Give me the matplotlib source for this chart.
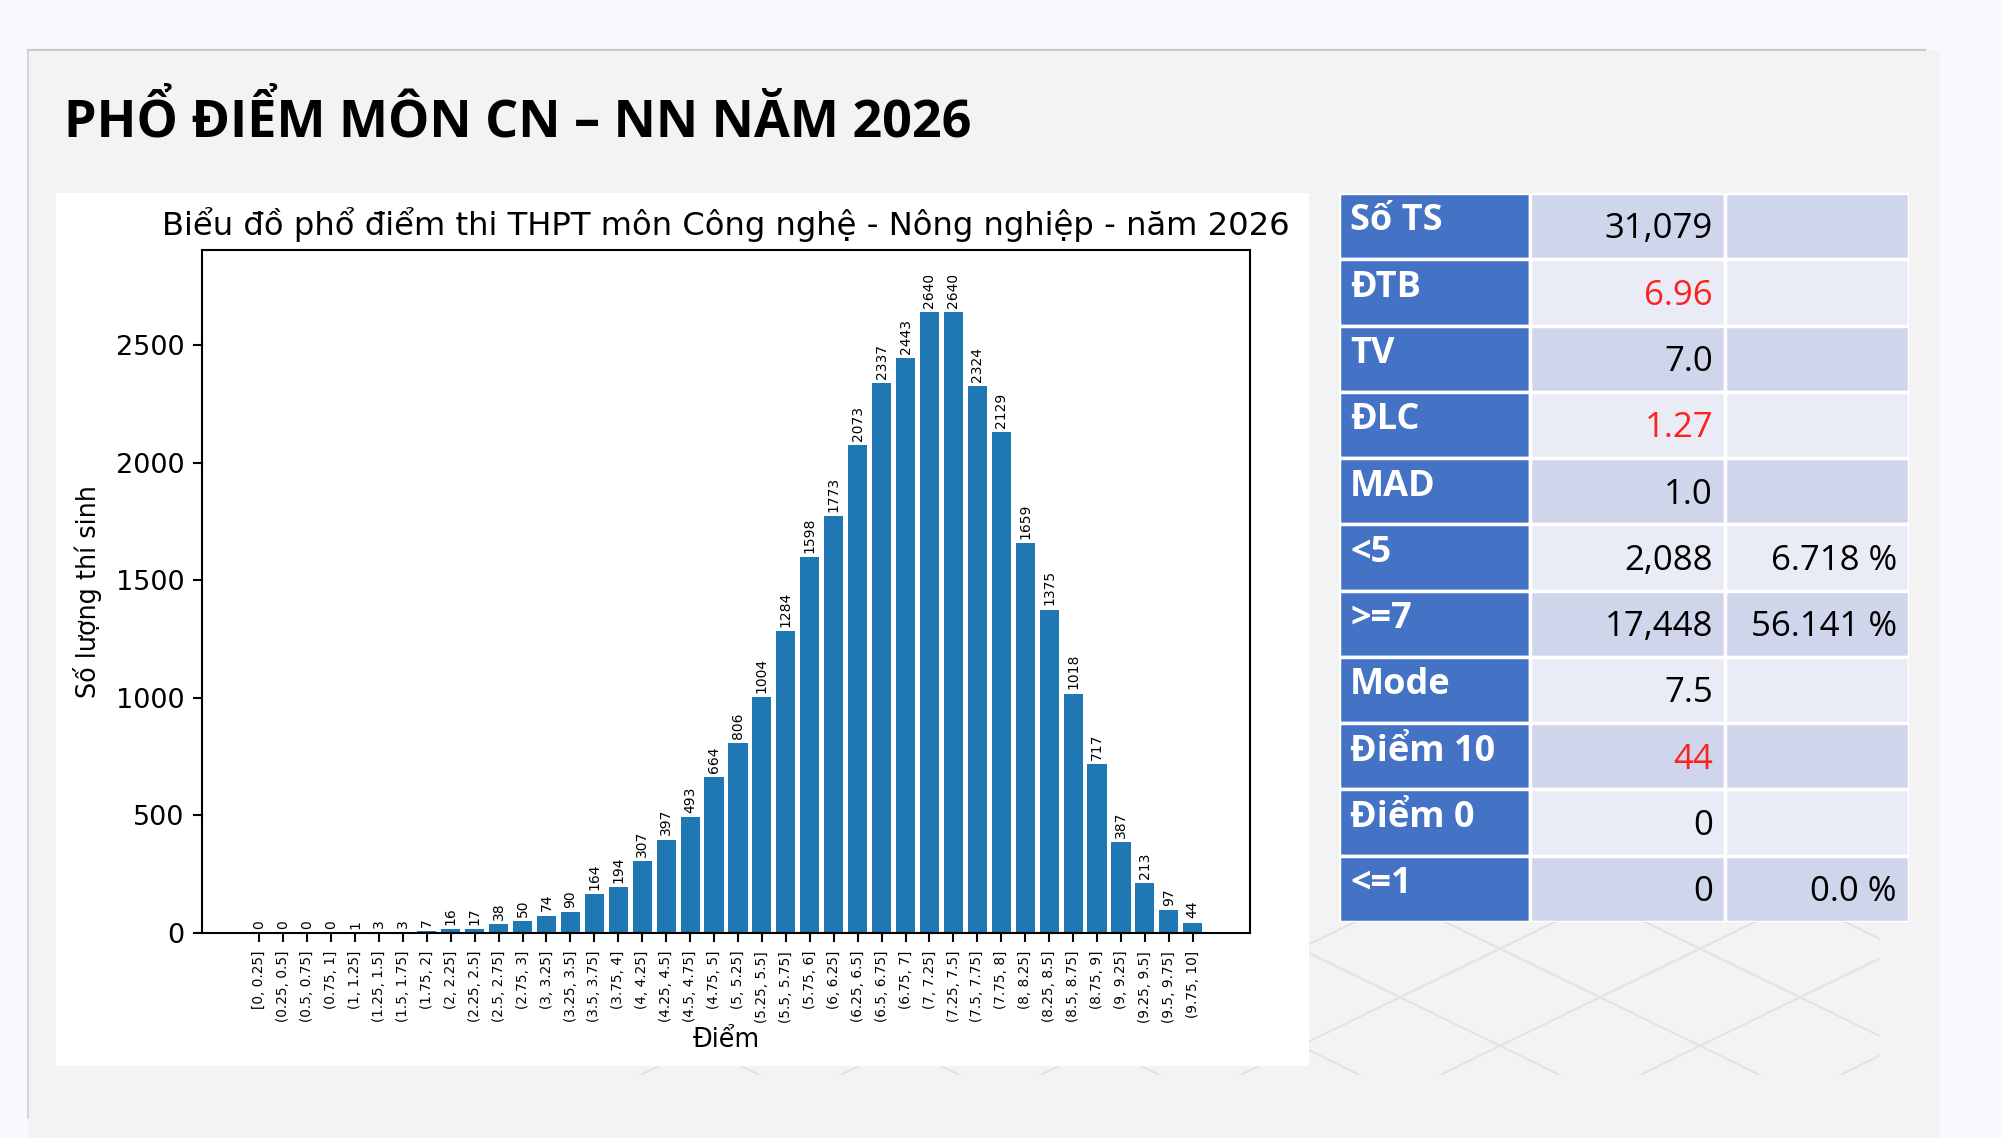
import numpy as np
import matplotlib
matplotlib.use("Agg")
import matplotlib.pyplot as plt
from matplotlib.patches import Rectangle

W, H = 2002, 1138

# score bins and counts
bins = ["[0, 0.25]", "(0.25, 0.5]", "(0.5, 0.75]", "(0.75, 1]", "(1, 1.25]", "(1.25, 1.5]",
        "(1.5, 1.75]", "(1.75, 2]", "(2, 2.25]", "(2.25, 2.5]", "(2.5, 2.75]", "(2.75, 3]",
        "(3, 3.25]", "(3.25, 3.5]", "(3.5, 3.75]", "(3.75, 4]", "(4, 4.25]", "(4.25, 4.5]",
        "(4.5, 4.75]", "(4.75, 5]", "(5, 5.25]", "(5.25, 5.5]", "(5.5, 5.75]", "(5.75, 6]",
        "(6, 6.25]", "(6.25, 6.5]", "(6.5, 6.75]", "(6.75, 7]", "(7, 7.25]", "(7.25, 7.5]",
        "(7.5, 7.75]", "(7.75, 8]", "(8, 8.25]", "(8.25, 8.5]", "(8.5, 8.75]", "(8.75, 9]",
        "(9, 9.25]", "(9.25, 9.5]", "(9.5, 9.75]", "(9.75, 10]"]
counts = [0, 0, 0, 0, 1, 3, 3, 7, 16, 17, 38, 50, 74, 90, 164, 194, 307, 397, 493, 664,
          806, 1004, 1284, 1598, 1773, 2073, 2337, 2443, 2640, 2640, 2324, 2129, 1659, 1375,
          1018, 717, 387, 213, 97, 44]

# summary table
stat_names = ["Số TS", "ĐTB", "TV", "ĐLC", "MAD", "<5", ">=7", "Mode", "Điểm 10", "Điểm 0", "<=1"]
stat_values = ["31,079", "6.96", "7.0", "1.27", "1.0", "2,088", "17,448", "7.5", "44", "0", "0"]
stat_pct = ["", "", "", "", "", "6.718 %", "56.141 %", "", "", "", "0.0 %"]
stat_red = ["ĐTB", "ĐLC", "Điểm 10"]


def box(x0, y0, x1, y1):
    # pixel box (top-left origin) -> figure fraction rect
    return [x0 / W, 1 - y1 / H, (x1 - x0) / W, (y1 - y0) / H]


fig = plt.figure(figsize=(W / 100, H / 100), dpi=100)
fig.patch.set_facecolor("#f8f9fc")

# slide panel, border only on top and left
b = box(28, 50, 1940, 1140)
fig.patches.append(Rectangle((b[0], b[1]), b[2], b[3], transform=fig.transFigure,
                             facecolor="#f3f3f3", edgecolor="none", zorder=0))
fig.add_artist(plt.Line2D([28 / W, 1925 / W], [1 - 50 / H, 1 - 50 / H], color="#c9c9c9", lw=1.5))
fig.add_artist(plt.Line2D([28 / W, 28 / W], [1 - 50 / H, 1 - 1118 / H], color="#d0d0d0", lw=1.2))

fig.text(64 / W, 1 - 122 / H, "PHỔ ĐIỂM MÔN CN – NN NĂM 2026", fontsize=37.5, fontweight="bold",
         family=["Open Sans", "DejaVu Sans"], va="center", ha="left", color="black")

# decorative lattice under the table
axl = fig.add_axes(box(600, 900, 1880, 1075), zorder=0.5)
axl.set_xlim(600, 1880)
axl.set_ylim(1075, 900)
axl.axis("off")
for x0 in np.arange(200, 2400, 200):
    axl.plot([x0, x0 + 360], [900, 1075], color="#e3e3e3", lw=1.5)
    axl.plot([x0, x0 - 360], [900, 1075], color="#e3e3e3", lw=1.5)

# white chart panel
b = box(56, 193, 1309, 1066)
fig.patches.append(Rectangle((b[0], b[1]), b[2], b[3], transform=fig.transFigure,
                             facecolor="white", edgecolor="none", zorder=1))

ax = fig.add_axes(box(202, 250, 1250, 933), zorder=2)
x = np.arange(len(bins))
bars = ax.bar(x, counts, width=0.8, color="#1f77b4")
ax.bar_label(bars, labels=[str(c) for c in counts], padding=3, rotation=90, fontsize=10)
ax.set_ylim(0, max(counts) * 1.1)
ax.set_xticks(x)
ax.set_xticklabels(bins, rotation=90, fontsize=9.8)
ax.tick_params(axis="y", labelsize=19.5)
ax.tick_params(length=6.4, width=1.5, pad=6.4)
for s in ax.spines.values():
    s.set_linewidth(1.5)
ax.set_title("Biểu đồ phổ điểm thi THPT môn Công nghệ - Nông nghiệp - năm 2026", fontsize=23.2, pad=11)
ax.set_xlabel("Điểm", fontsize=18.4, labelpad=3)
ax.set_ylabel("Số lượng thí sinh", fontsize=18.4, labelpad=10)

# table
axt = fig.add_axes(box(1339, 193, 1909, 922), zorder=3)
axt.set_xlim(1339, 1909)
axt.set_ylim(922, 193)
axt.axis("off")
cols = [1339, 1530, 1725, 1909]
rh = (922 - 193) / len(stat_names)
tfont = ["Open Sans", "DejaVu Sans"]
for i, name in enumerate(stat_names):
    top = 193 + i * rh
    fill = "#cfd5ea" if i % 2 == 0 else "#e9ebf5"
    axt.add_patch(Rectangle((cols[0], top), cols[1] - cols[0], rh, facecolor="#4472c4",
                            edgecolor="white", lw=2.5))
    axt.add_patch(Rectangle((cols[1], top), cols[2] - cols[1], rh, facecolor=fill,
                            edgecolor="white", lw=2.5))
    axt.add_patch(Rectangle((cols[2], top), cols[3] - cols[2], rh, facecolor=fill,
                            edgecolor="white", lw=2.5))
    axt.text(cols[0] + 11, top + 0.43 * rh, name, color="white", fontsize=26, fontweight="bold",
             family=tfont, ha="left", va="center")
    axt.text(cols[2] - 12, top + 0.55 * rh, stat_values[i], fontsize=25, family=tfont,
             color="#ff2020" if name in stat_red else "black", ha="right", va="center")
    if stat_pct[i]:
        axt.text(cols[3] - 12, top + 0.55 * rh, stat_pct[i], fontsize=25, family=tfont,
                 color="black", ha="right", va="center")

fig.savefig("out.png", dpi=100, facecolor=fig.get_facecolor())
